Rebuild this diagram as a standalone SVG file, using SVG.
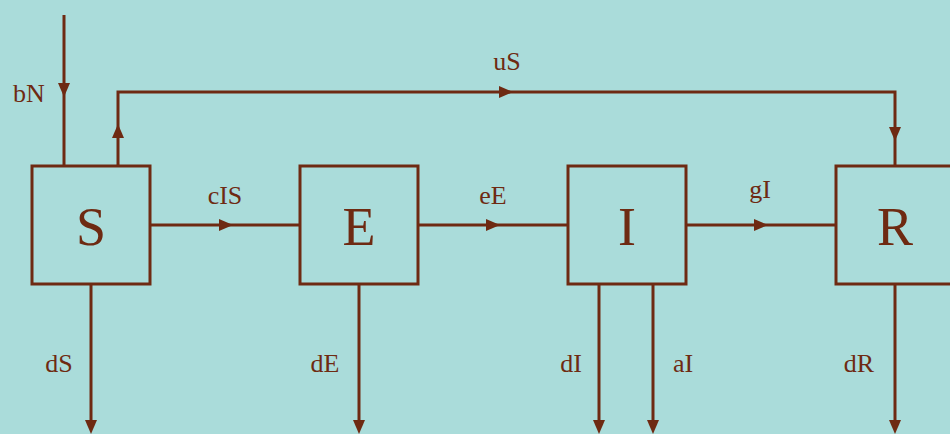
<svg xmlns="http://www.w3.org/2000/svg" width="950" height="434" viewBox="0 0 950 434">
  <style>
    .box { fill: none; stroke: #6e2a12; stroke-width: 3; }
    .flow { fill: none; stroke: #6e2a12; stroke-width: 3; }
    .head { fill: #6e2a12; }
    .name { font-family: "Liberation Serif", "DejaVu Serif", serif; font-size: 54px; fill: #6e2a12; text-anchor: middle; }
    .rate { font-family: "Liberation Serif", "DejaVu Serif", serif; font-size: 26px; fill: #6e2a12; text-anchor: middle; }
  </style>
  <defs>
    <!-- arrowhead pointing right, tip at the origin -->
    <path id="head" class="head" d="M-14,-6 L0,0 L-14,6 z"/>
  </defs>
  <rect x="0" y="0" width="950" height="434" fill="#aadcda"/>

  <g id="connectors">
    <!-- births into S -->
    <path class="flow" d="M64,15 L64,166"/>
    <use href="#head" transform="translate(64,97) rotate(90)"/>
    <!-- direct S to R path over the top -->
    <path class="flow" d="M118,166 L118,92 L895,92 L895,166"/>
    <use href="#head" transform="translate(118,124) rotate(-90)"/>
    <use href="#head" transform="translate(513,92)"/>
    <use href="#head" transform="translate(895,141) rotate(90)"/>
    <!-- main chain -->
    <path class="flow" d="M150,225 L300,225"/>
    <use href="#head" transform="translate(233,225)"/>
    <path class="flow" d="M418,225 L568,225"/>
    <use href="#head" transform="translate(500,225)"/>
    <path class="flow" d="M686,225 L836,225"/>
    <use href="#head" transform="translate(768,225)"/>
    <!-- outflows -->
    <path class="flow" d="M91,284 L91,420"/>
    <use href="#head" transform="translate(91,434) rotate(90)"/>
    <path class="flow" d="M359,284 L359,420"/>
    <use href="#head" transform="translate(359,434) rotate(90)"/>
    <path class="flow" d="M599,284 L599,420"/>
    <use href="#head" transform="translate(599,434) rotate(90)"/>
    <path class="flow" d="M653,284 L653,420"/>
    <use href="#head" transform="translate(653,434) rotate(90)"/>
    <path class="flow" d="M895,284 L895,420"/>
    <use href="#head" transform="translate(895,434) rotate(90)"/>
  </g>

  <g id="labels">
    <text class="rate" x="29" y="102">bN</text>
    <text class="rate" x="507" y="70">uS</text>
    <text class="rate" x="225" y="204">cIS</text>
    <text class="rate" x="493" y="204">eE</text>
    <text class="rate" x="760" y="198">gI</text>
    <text class="rate" x="59" y="372">dS</text>
    <text class="rate" x="325" y="372">dE</text>
    <text class="rate" x="571" y="372">dI</text>
    <text class="rate" x="683" y="372">aI</text>
    <text class="rate" x="859" y="372">dR</text>
  </g>

  <g id="node-S">
    <rect class="box" x="32" y="166" width="118" height="118"/>
    <text class="name" x="91" y="245">S</text>
  </g>
  <g id="node-E">
    <rect class="box" x="300" y="166" width="118" height="118"/>
    <text class="name" x="359" y="245">E</text>
  </g>
  <g id="node-I">
    <rect class="box" x="568" y="166" width="118" height="118"/>
    <text class="name" x="627" y="245">I</text>
  </g>
  <g id="node-R">
    <rect class="box" x="836" y="166" width="118" height="118"/>
    <text class="name" x="895" y="245">R</text>
  </g>
</svg>
